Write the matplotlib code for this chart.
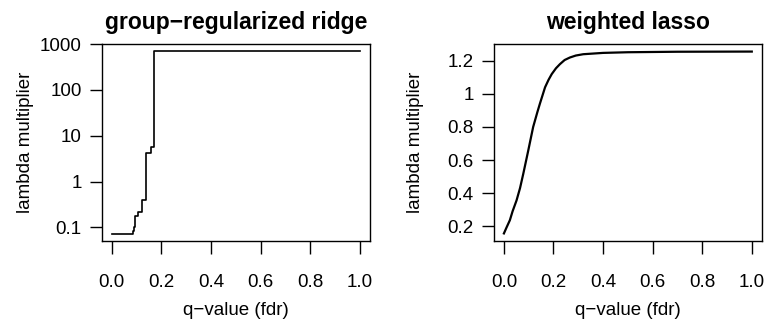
import matplotlib
matplotlib.use("Agg")
import matplotlib.pyplot as plt
import numpy as np

# ---- data ----
ridge_q = [0.0, 0.087, 0.091, 0.095, 0.107, 0.122, 0.138, 0.158, 0.172, 1.0]
ridge_lambda = [0.0726, 0.085, 0.10, 0.18, 0.22, 0.40, 4.2, 5.6, 700, 700]

lasso_q = [0.0, 0.01, 0.024, 0.035, 0.051, 0.065, 0.078, 0.098, 0.118, 0.135,
           0.145, 0.166, 0.18, 0.193, 0.21, 0.226, 0.245, 0.266, 0.29, 0.32,
           0.4, 0.5, 0.7, 1.0]
lasso_lambda = [0.156, 0.19, 0.236, 0.29, 0.356, 0.43, 0.516, 0.656, 0.80, 0.89,
                0.94, 1.04, 1.085, 1.12, 1.155, 1.18, 1.205, 1.22, 1.232, 1.24,
                1.248, 1.252, 1.255, 1.256]

x_ticks = [0.0, 0.2, 0.4, 0.6, 0.8, 1.0]
x_tick_labels = ["0.0", "0.2", "0.4", "0.6", "0.8", "1.0"]
ridge_yticks = [0.1, 1, 10, 100, 1000]
ridge_ytick_labels = ["0.1", "1", "10", "100", "1000"]
lasso_yticks = [0.2, 0.4, 0.6, 0.8, 1.0, 1.2]
lasso_ytick_labels = ["0.2", "0.4", "0.6", "0.8", "1", "1.2"]

titles = ["group\u2212regularized ridge", "weighted lasso"]
xlabel = "q\u2212value (fdr)"
ylabel = "lambda multiplier"

plt.rcParams['font.family'] = ['Liberation Sans', 'DejaVu Sans']
FS = 13.5

fig = plt.figure(figsize=(7.67, 3.23), dpi=100)
W, H = 767, 323
ax1 = fig.add_axes([101.7 / W, 1 - 241 / H, (370 - 101.7) / W, (241 - 44) / H])
ax2 = fig.add_axes([494 / W, 1 - 240.7 / H, (761.7 - 494) / W, (240.7 - 44.3) / H])


def rlim(lo, hi):
    d = hi - lo
    return lo - 0.04 * d, hi + 0.04 * d


# left panel (log scale)
ax1.step(ridge_q, ridge_lambda, where='post', color='black', lw=1.2)
ax1.set_yscale('log')
llo, lhi = rlim(np.log10(min(ridge_lambda)), np.log10(max(ridge_lambda)))
ax1.set_ylim(10 ** llo, 10 ** lhi)
ax1.set_yticks(ridge_yticks)
ax1.set_yticklabels(ridge_ytick_labels)
ax1.yaxis.set_minor_locator(matplotlib.ticker.NullLocator())

# right panel
ax2.plot(lasso_q, lasso_lambda, color='black', lw=1.6)
ax2.set_ylim(*rlim(min(lasso_lambda), max(lasso_lambda)))
ax2.set_yticks(lasso_yticks)
ax2.set_yticklabels(lasso_ytick_labels)

for ax, t, ylx, xly in zip([ax1, ax2], titles, [-0.251, -0.2625], [-0.31, -0.313]):
    ax.set_xlim(*rlim(0, 1))
    ax.set_xticks(x_ticks)
    ax.set_xticklabels(x_tick_labels)
    ax.tick_params(axis='both', direction='out', length=9, width=1.0,
                   labelsize=FS, colors='black')
    ax.tick_params(axis='x', pad=15)
    ax.tick_params(axis='y', pad=5.5)
    for s in ax.spines.values():
        s.set_linewidth(1.0)
    ax.set_title(t, fontsize=16.5, fontweight='bold', pad=11)
    ax.set_xlabel(xlabel, fontsize=FS)
    ax.set_ylabel(ylabel, fontsize=FS)
    ax.xaxis.set_label_coords(0.5, xly)
    ax.yaxis.set_label_coords(ylx, 0.5)

fig.savefig("out.png", dpi=100)
